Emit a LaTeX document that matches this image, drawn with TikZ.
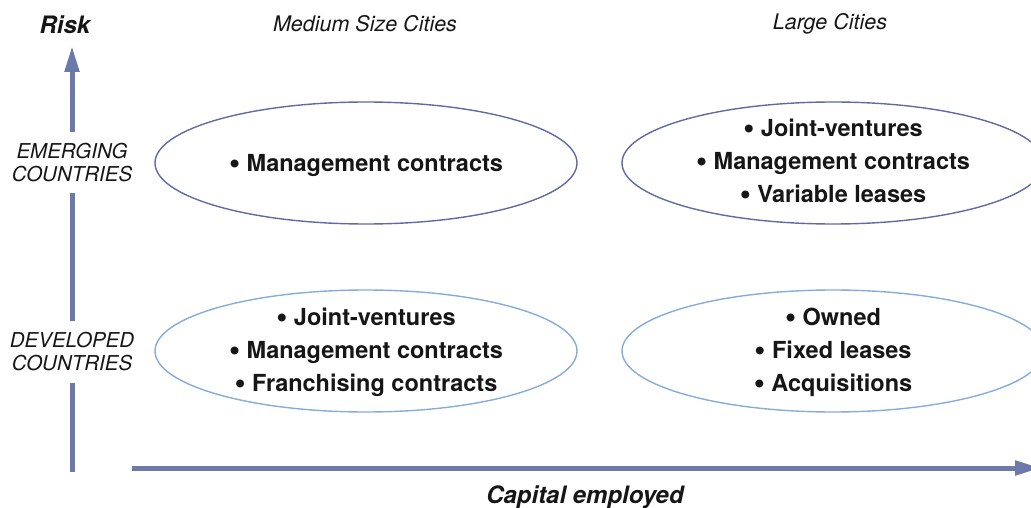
\documentclass[tikz,border=0pt]{standalone}
\usepackage{fontspec}
\setmainfont{TeX Gyre Heros}
\usetikzlibrary{shapes.geometric,arrows.meta}
\definecolor{axisblue}{RGB}{108,122,170}
\definecolor{rimdark}{RGB}{96,106,166}
\definecolor{rimlight}{RGB}{132,172,222}
\definecolor{ink}{RGB}{22,22,22}
% a slightly larger list bullet
\newcommand{\itembul}{\raisebox{-0.09em}{\scalebox{1.35}{•}}}
\begin{document}
\begin{tikzpicture}[x=1pt,y=-1pt,
  axis/.style={line width=5pt, draw=axisblue},
  tipped/.style={-{Triangle[length=26pt,width=14pt]}},
  oval/.style={ellipse, minimum width=422pt, minimum height=122pt, inner sep=0pt, line width=1.4pt},
  upper/.style={oval, draw=rimdark},
  lower/.style={oval, draw=rimlight},
  items/.style={font=\fontsize{23.5}{33}\selectfont\bfseries, align=center, text=ink, inner sep=0pt},
  colhead/.style={font=\fontsize{21.5}{24}\selectfont\itshape, text=ink},
  rowhead/.style={font=\fontsize{20.5}{23}\selectfont\itshape, align=center, text=ink, minimum height=61pt, inner sep=0pt},
  axlabel/.style={font=\fontsize{24}{27}\selectfont\bfseries\itshape, text=ink},
]
\useasboundingbox (0,0) rectangle (1031,508);

% headings
\node[axlabel] (risk) at (65,25) {Risk};
\node[colhead] (medium) at (365,24) {Medium Size Cities};
\node[colhead] (large) at (830,24) {Large Cities};
\node[rowhead] (emerging) at (72,162.5) {EMERGING\\COUNTRIES};
\node[rowhead] (developed) at (72,352) {DEVELOPED\\COUNTRIES};
\node[axlabel] (capital) at (585,497) {Capital employed};

% axes
\coordinate (ybase) at (72,472);
\coordinate (ytip) at (72,46);
\coordinate (xbase) at (132,468);
\coordinate (xtip) at (1041,468);
\draw[axis] (ybase) -- (ybase |- developed.south);
\draw[axis] (ybase |- developed.north) -- (ybase |- emerging.south);
\draw[axis, tipped] (ybase |- emerging.north) -- (ytip);
\draw[axis, tipped] (xbase) -- (xtip);

% quadrants
\node[upper] (eml) at (366,163) {};
\node[upper] (emr) at (833,163) {};
\node[lower] (dvl) at (366,351) {};
\node[lower] (dvr) at (833,351) {};

\node[items] (emltext) at (366,165) {\itembul{} Management contracts};
\node[items] (emrtext) at (833,162) {\itembul{} Joint-ventures\\\itembul{} Management contracts\\\itembul{} Variable leases};
\node[items] (dvltext) at (366,352) {\itembul{} Joint-ventures\\\itembul{} Management contracts\\\itembul{} Franchising contracts};
\node[items] (dvrtext) at (833,352) {\itembul{} Owned\\\itembul{} Fixed leases\\\itembul{} Acquisitions};
\end{tikzpicture}
\end{document}
